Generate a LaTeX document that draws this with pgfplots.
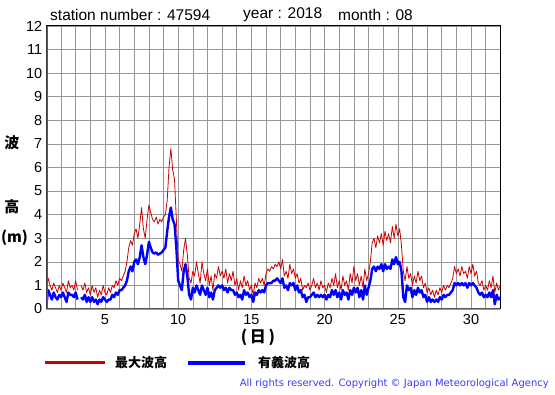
\documentclass[border=0pt]{standalone}
\usepackage{pgfplots}
\usepackage{pgfplotstable}
\pgfplotsset{compat=1.18}
\usepackage{fontspec}
\setmainfont{Liberation Sans}
\newfontfamily\jp{Noto Sans CJK JP}
\newfontfamily\cpy{DejaVu Sans}
\definecolor{mxred}{RGB}{204,0,0}
\definecolor{sgblue}{RGB}{0,0,255}
\definecolor{cpblue}{RGB}{60,60,255}
\definecolor{gridgray}{RGB}{150,150,150}
\definecolor{axgray}{RGB}{90,90,90}
\pgfplotstableread{
x mx sg
1.000 0.9 0.2
1.125 1.3 0.8
1.250 1.0 0.6
1.375 0.8 0.4
1.500 1.1 0.7
1.625 0.9 0.5
1.750 0.7 0.4
1.875 1.0 0.6
2.000 0.8 0.5
2.125 1.1 0.7
2.250 0.9 0.5
2.375 0.7 0.3
2.500 1.2 0.7
2.625 0.9 0.6
2.750 1.0 0.6
2.875 0.8 0.5
3.000 1.2 0.7
3.125 0.8 0.4
3.250 nan nan
3.375 1.0 0.5
3.500 0.8 0.4
3.625 1.1 0.6
3.750 0.7 0.3
3.875 0.9 0.5
4.000 0.6 0.3
4.125 1.0 0.5
4.250 0.7 0.3
4.375 0.9 0.4
4.500 0.5 0.2
4.625 0.8 0.4
4.750 0.6 0.3
4.875 1.0 0.5
5.000 0.7 0.4
5.125 0.6 0.3
5.250 0.9 0.4
5.375 0.7 0.4
5.500 1.0 0.6
5.625 0.9 0.5
5.750 1.2 0.7
5.875 1.0 0.6
6.000 1.3 0.8
6.125 1.2 0.8
6.250 1.4 0.9
6.375 1.6 1.0
6.500 2.0 1.2
6.625 2.6 1.6
6.750 2.9 1.8
6.875 2.7 1.6
7.000 3.2 2.0
7.125 3.4 2.1
7.250 3.0 1.9
7.375 3.6 2.2
7.500 4.3 2.7
7.625 3.4 2.2
7.750 3.0 1.9
7.875 3.8 2.3
8.000 4.4 2.85
8.125 4.1 2.6
8.250 3.8 2.4
8.375 3.7 2.35
8.500 3.9 2.4
8.625 3.6 2.3
8.750 3.8 2.35
8.875 3.7 2.4
9.000 3.9 2.5
9.125 4.0 2.6
9.250 4.6 3.3
9.375 6.0 3.9
9.500 6.8 4.3
9.625 5.9 3.8
9.750 5.5 3.6
9.875 3.8 2.6
10.000 2.1 1.2
10.125 1.9 1.0
10.250 1.6 0.8
10.375 2.5 1.6
10.500 3.0 1.9
10.625 2.3 1.4
10.750 1.3 0.6
10.875 1.1 0.4
11.000 1.6 0.9
11.125 1.4 0.7
11.250 2.0 1.0
11.375 1.5 0.8
11.500 1.1 0.6
11.625 2.0 1.0
11.750 1.5 0.8
11.875 1.2 0.6
12.000 1.7 0.9
12.125 1.0 0.5
12.250 1.4 0.7
12.375 0.8 0.4
12.500 1.5 0.8
12.625 1.3 0.9
12.750 1.8 1.0
12.875 1.4 0.9
13.000 1.6 1.0
13.125 1.3 0.8
13.250 1.7 0.9
13.375 1.1 0.7
13.500 1.5 0.9
13.625 1.2 0.8
13.750 1.6 0.8
13.875 1.0 0.6
14.000 1.3 0.7
14.125 0.8 0.5
14.250 1.2 0.6
14.375 0.9 0.4
14.500 1.4 0.8
14.625 1.0 0.6
14.750 1.2 0.7
14.875 0.8 0.5
15.000 1.0 0.6
15.125 0.6 0.3
15.250 1.1 0.7
15.375 0.9 0.6
15.500 1.3 0.8
15.625 1.1 0.7
15.750 1.3 0.8
15.875 1.0 0.7
16.000 1.5 1.0
16.125 1.7 1.1
16.250 1.6 1.1
16.375 1.8 1.1
16.500 1.7 1.2
16.625 1.9 1.2
16.750 1.8 1.3
16.875 2.0 1.2
17.000 1.7 1.1
17.125 2.1 1.3
17.250 1.4 0.9
17.375 1.6 1.0
17.500 1.3 0.8
17.625 1.9 1.1
17.750 1.5 1.0
17.875 1.7 1.1
18.000 1.3 0.8
18.125 1.5 1.0
18.250 1.1 0.7
18.375 1.3 0.8
18.500 0.8 0.5
18.625 1.0 0.6
18.750 0.9 0.3
18.875 1.1 0.5
19.000 0.8 0.5
19.125 1.0 0.6
19.250 1.3 0.7
19.375 0.9 0.5
19.500 1.1 0.6
19.625 0.8 0.5
19.750 1.2 0.6
19.875 0.9 0.5
20.000 1.0 0.6
20.125 0.7 0.4
20.250 1.1 0.6
20.375 0.9 0.5
20.500 1.3 0.8
20.625 1.0 0.6
20.750 1.5 0.8
20.875 0.9 0.5
21.000 1.2 0.7
21.125 0.8 0.4
21.250 1.4 0.8
21.375 1.0 0.6
21.500 1.2 0.7
21.625 0.8 0.4
21.750 1.5 0.8
21.875 1.1 0.6
22.000 1.8 0.9
22.125 1.2 0.7
22.250 1.5 0.9
22.375 1.0 0.5
22.500 1.4 0.8
22.625 0.9 0.4
22.750 1.7 1.0
22.875 1.2 0.6
23.000 1.5 0.9
23.125 2.0 1.2
23.250 2.8 1.7
23.375 3.0 1.8
23.500 2.6 1.6
23.625 3.1 1.8
23.750 2.8 1.7
23.875 3.2 1.9
24.000 2.7 1.6
24.125 3.3 1.9
24.250 2.9 1.7
24.375 3.2 1.8
24.500 2.8 1.7
24.625 3.5 2.1
24.750 3.0 1.9
24.875 3.6 2.2
25.000 3.1 1.9
25.125 3.4 2.0
25.250 2.7 1.6
25.375 1.6 0.5
25.500 1.2 0.3
25.625 1.8 1.0
25.750 1.3 0.8
25.875 1.5 0.9
26.000 1.0 0.5
26.125 1.4 0.8
26.250 1.1 0.6
26.375 1.6 0.9
26.500 1.2 0.7
26.625 1.4 0.8
26.750 0.9 0.5
26.875 1.1 0.6
27.000 0.7 0.3
27.125 0.9 0.5
27.250 0.6 0.3
27.375 0.8 0.4
27.500 0.5 0.3
27.625 0.8 0.4
27.750 0.6 0.3
27.875 0.9 0.5
28.000 0.7 0.4
28.125 1.0 0.6
28.250 0.8 0.5
28.375 1.0 0.6
28.500 0.9 0.6
28.625 1.1 0.7
28.750 1.3 0.8
28.875 1.8 1.1
29.000 1.5 1.0
29.125 1.7 1.1
29.250 1.4 1.0
29.375 1.8 1.1
29.500 1.5 1.0
29.625 1.6 1.1
29.750 1.3 0.9
29.875 1.8 1.1
30.000 1.5 1.0
30.125 1.9 1.1
30.250 1.4 1.0
30.375 1.6 0.9
30.500 1.1 0.7
30.625 1.0 0.6
30.750 1.2 0.7
30.875 0.8 0.5
31.000 1.0 0.6
31.125 0.8 0.5
31.250 1.2 0.7
31.375 0.9 0.5
31.500 1.4 0.8
31.625 0.7 0.2
31.750 1.1 0.6
31.875 0.8 0.4
32.000 1.0 0.5
}\wavedata
\begin{document}
\begin{tikzpicture}[x=1pt,y=1pt]
\path[use as bounding box, fill=white] (0,0) rectangle (555,395);
\begin{axis}[
  at={(46.4pt,86pt)}, anchor=south west,
  scale only axis, width=453.9pt, height=283pt,
  xmin=1, xmax=32, ymin=0, ymax=12,
  xtick={5,10,...,30}, minor xtick={1,2,...,32},
  ytick={0,1,...,12},
  grid=both,
  major grid style={gridgray, line width=0.6pt},
  minor grid style={gridgray, line width=0.6pt},
  major tick length=0pt, minor tick length=0pt,
  axis line style={black, line width=1pt},
  tick label style={font=\fontsize{14.5}{14.5}\selectfont, inner sep=0pt},
  /pgf/number format/assume math mode=true,
  xticklabel style={yshift=-5pt},
  yticklabel style={xshift=-4pt},
  unbounded coords=jump,
  clip=true,
]
\addplot[sgblue, line width=2.4pt, line join=round] table[x=x, y=sg] {\wavedata};
\addplot[mxred, line width=0.8pt, line join=round] table[x=x, y=mx] {\wavedata};
\draw[axgray, line width=2.5pt] (rel axis cs:0,1) -- (rel axis cs:0,0) -- (rel axis cs:1,0);
\end{axis}
\node[anchor=west, inner sep=0pt, font=\fontsize{15.5}{15.5}\selectfont] at (50,380) {station number : 47594};
\node[anchor=west, inner sep=0pt, font=\fontsize{15.5}{15.5}\selectfont] at (243,380) {year : 2018};
\node[anchor=west, inner sep=0pt, font=\fontsize{15.5}{15.5}\selectfont] at (338,380) {month : 08};
\node[inner sep=0pt, font=\jp\bfseries\fontsize{15}{15}\selectfont] at (12,252) {波};
\node[inner sep=0pt, font=\jp\bfseries\fontsize{15}{15}\selectfont] at (12,188) {高};
\node[anchor=west, inner sep=0pt, font=\jp\bfseries\fontsize{15}{15}\selectfont] at (1,157) {(m)};
\node[inner sep=0pt, font=\jp\bfseries\fontsize{16}{16}\selectfont] at (258,58) {(\,日\,)};
\draw[mxred, line width=3pt] (45,32) -- (105,32);
\node[anchor=west, inner sep=0pt, font=\jp\bfseries\fontsize{13}{13}\selectfont] at (115,32) {最大波高};
\draw[sgblue, line width=4pt] (188,32) -- (245,32);
\node[anchor=west, inner sep=0pt, font=\jp\bfseries\fontsize{13}{13}\selectfont] at (258,32) {有義波高};
\node[anchor=east, inner sep=0pt, text=cpblue] at (549,11) {\resizebox{309pt}{!}{\cpy\fontsize{8.5}{8.5}\selectfont All rights reserved. Copyright \textcopyright{} Japan Meteorological Agency}};
\end{tikzpicture}
\end{document}
